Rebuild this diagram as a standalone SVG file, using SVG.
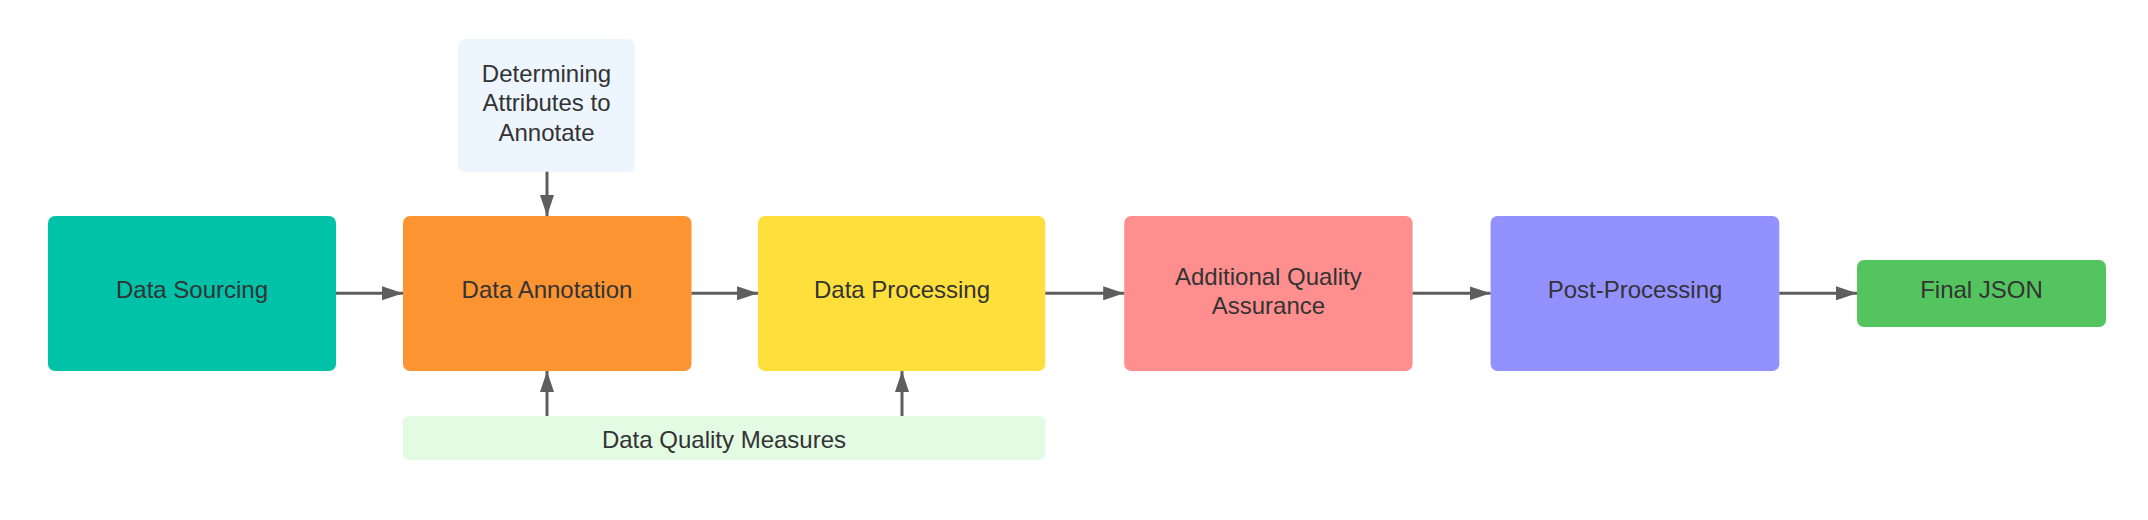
<svg xmlns="http://www.w3.org/2000/svg" width="2148" height="520" viewBox="0 0 2148 520">
  <style>
    .lbl { font-family: "Liberation Sans", Arial, sans-serif; font-size: 24px; fill: #333333; text-anchor: middle; }
    .conn { stroke: #5e5e5e; stroke-width: 3; fill: none; marker-end: url(#arrow); }
  </style>
  <defs>
    <marker id="arrow" viewBox="0 0 21 14" refX="21" refY="7" markerWidth="21" markerHeight="14" markerUnits="userSpaceOnUse" orient="auto">
      <path d="M0,0 L21,7 L0,14 Z" fill="#5e5e5e"/>
    </marker>
  </defs>
  <rect width="2148" height="520" fill="#ffffff"/>

  <g id="data-sourcing">
    <rect x="48" y="216" width="288" height="155" rx="7" fill="#00C2A8"/>
    <text class="lbl" x="192" y="297.5">Data Sourcing</text>
  </g>
  <g id="determining-attributes">
    <rect x="458" y="39" width="177" height="133" rx="7" fill="#EDF5FF"/>
    <text class="lbl" x="546.5" y="82">Determining</text>
    <text class="lbl" x="546.5" y="111">Attributes to</text>
    <text class="lbl" x="546.5" y="140.5">Annotate</text>
  </g>
  <g id="data-annotation">
    <rect x="403" y="216" width="288.5" height="155" rx="7" fill="#FC9432"/>
    <text class="lbl" x="547" y="297.5">Data Annotation</text>
  </g>
  <g id="data-processing">
    <rect x="758" y="216" width="287.3" height="155" rx="7" fill="#FFDF3C"/>
    <text class="lbl" x="902" y="297.5">Data Processing</text>
  </g>
  <g id="additional-qa">
    <rect x="1124.2" y="216" width="288.4" height="155" rx="7" fill="#FF8F8F"/>
    <text class="lbl" x="1268.4" y="285">Additional Quality</text>
    <text class="lbl" x="1268.4" y="314.3">Assurance</text>
  </g>
  <g id="post-processing">
    <rect x="1490.6" y="216" width="288.7" height="155" rx="7" fill="#9391FF"/>
    <text class="lbl" x="1635" y="297.5">Post-Processing</text>
  </g>
  <g id="final-json">
    <rect x="1857" y="260" width="249" height="67" rx="7" fill="#54C45E"/>
    <text class="lbl" x="1981.5" y="298">Final JSON</text>
  </g>
  <g id="data-quality-measures">
    <rect x="403" y="416" width="642.3" height="44" rx="6" fill="#E3FAE3"/>
    <text class="lbl" x="724" y="448.3">Data Quality Measures</text>
  </g>

  <g id="connectors">
    <line class="conn" x1="336" y1="293.3" x2="403" y2="293.3"/>
    <line class="conn" x1="691.5" y1="293.3" x2="758" y2="293.3"/>
    <line class="conn" x1="1045.3" y1="293.3" x2="1124.2" y2="293.3"/>
    <line class="conn" x1="1412.6" y1="293.3" x2="1490.6" y2="293.3"/>
    <line class="conn" x1="1779.3" y1="293.3" x2="1857" y2="293.3"/>
    <line class="conn" x1="547" y1="171.7" x2="547" y2="216"/>
    <line class="conn" x1="547" y1="416" x2="547" y2="371"/>
    <line class="conn" x1="902" y1="416" x2="902" y2="371"/>
  </g>
</svg>
